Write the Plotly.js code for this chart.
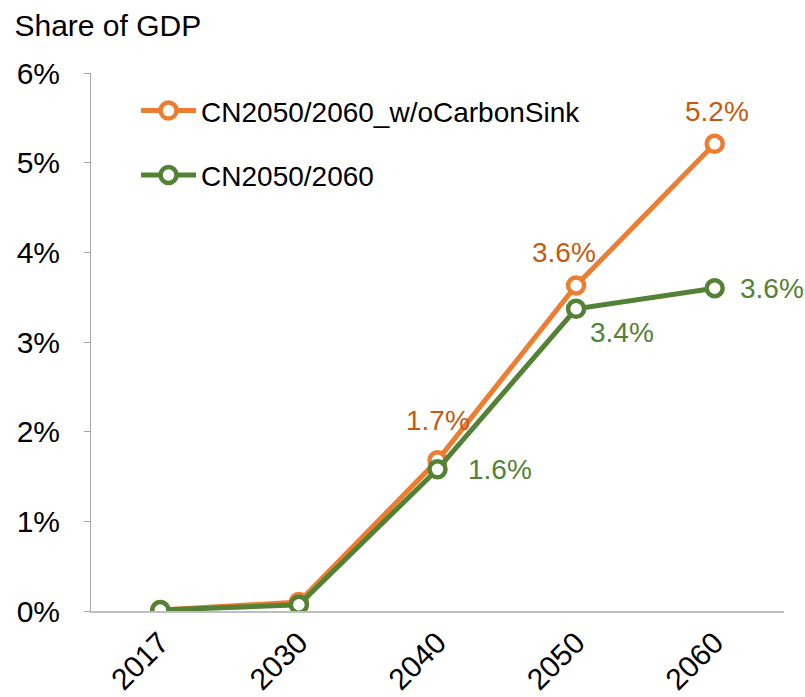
<!DOCTYPE html>
<html><head><meta charset="utf-8">
<script src="https://cdn.plot.ly/plotly-3.0.1.min.js"></script>
<style>html,body{margin:0;padding:0;background:#fff;}#chart{width:805px;height:697px;}</style>
</head><body><div id="chart"></div>
<script>
const years = ["2017", "2030", "2040", "2050", "2060"];
const woSink = [0.0001, 0.001, 0.0168, 0.0363, 0.0521];
const cn = [0.0001, 0.0007, 0.0158, 0.0337, 0.0360];
const seriesNames = ["CN2050/2060_w/oCarbonSink", "CN2050/2060"];
const woSinkLabels = ["", "", "1.7%", "3.6%", "5.2%"];
const cnLabels = ["", "", "1.6%", "3.4%", "3.6%"];
const yTicks = [0, 0.01, 0.02, 0.03, 0.04, 0.05, 0.06];
const yTickText = ["0%", "1%", "2%", "3%", "4%", "5%", "6%"];

const orange = "#ED7D31", orangeText = "#C55A11";
const green = "#538135", greenText = "#548235";
const FONT = "Liberation Sans, Arial, sans-serif";

function trace(y, name, color, group) {
  return {
    x: years, y: y, name: name, type: "scatter", mode: "lines+markers",
    legendgroup: group,
    line: {color: color, width: 5},
    marker: {symbol: "circle", size: 16, color: "#ffffff", line: {color: color, width: 4.5}},
    hoverinfo: "skip"
  };
}

const annotations = [];
const woOffsets = [null, null, [0, 40], [-12, 33], [2, 32]];
const cnOffsets = [null, null, [62, 0], [46, -24], [57, 0]];
years.forEach((yr, i) => {
  if (woSinkLabels[i]) annotations.push({x: i, y: woSink[i], xref: "x", yref: "y", text: woSinkLabels[i], showarrow: false,
    xshift: woOffsets[i][0], yshift: woOffsets[i][1], font: {family: FONT, size: 28, color: orangeText}});
  if (cnLabels[i]) annotations.push({x: i, y: cn[i], xref: "x", yref: "y", text: cnLabels[i], showarrow: false,
    xshift: cnOffsets[i][0], yshift: cnOffsets[i][1], font: {family: FONT, size: 28, color: greenText}});
});

const layout = {
  width: 805, height: 697,
  margin: {l: 91, r: 21, t: 73, b: 86},
  paper_bgcolor: "#fff", plot_bgcolor: "#fff",
  font: {family: FONT, color: "#000"},
  title: {text: "Share of GDP", x: 0.018, xanchor: "left", xref: "container",
          y: 0.964, yanchor: "middle", yref: "container", font: {size: 30, family: FONT, color: "#000"}},
  xaxis: {type: "category", range: [-0.5, 4.5], showgrid: false, zeroline: false,
          showline: true, linecolor: "#BFBFBF", linewidth: 2, ticks: "",
          tickangle: -45, tickfont: {size: 30, family: FONT, color: "#000"}},
  yaxis: {range: [0, 0.06], tickvals: yTicks, ticktext: yTickText, showgrid: false, zeroline: false,
          showline: true, linecolor: "#A6A6A6", linewidth: 1, ticks: "outside", ticklen: 6, tickcolor: "#A6A6A6",
          tickfont: {size: 30, family: FONT, color: "#000"}, ticklabelstandoff: 18},
  showlegend: true,
  legend: {x: 0.065, xanchor: "left", y: 0.976, yanchor: "top", bgcolor: "rgba(0,0,0,0)",
           font: {size: 28, family: FONT, color: "#000"}, tracegroupgap: 25, itemwidth: 55},
  annotations: annotations
};

Plotly.newPlot("chart", [trace(woSink, seriesNames[0], orange, "a"), trace(cn, seriesNames[1], green, "b")], layout, {displayModeBar: false, staticPlot: true});
</script></body></html>
